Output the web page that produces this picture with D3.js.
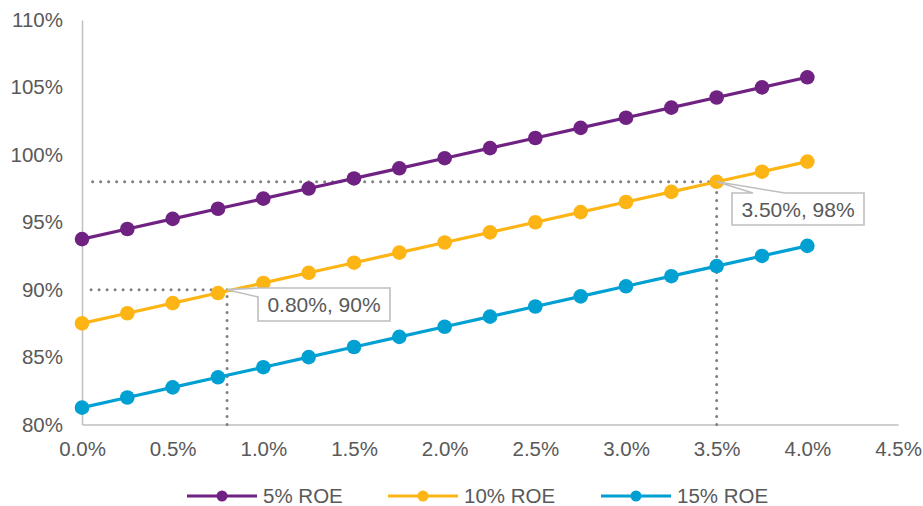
<!DOCTYPE html>
<html>
<head>
<meta charset="utf-8">
<script src="https://cdn.jsdelivr.net/npm/d3@7/dist/d3.min.js"></script>
<style>
  html, body { margin: 0; padding: 0; background: #ffffff; }
  svg { display: block; font-family: "Liberation Sans", Arial, sans-serif; }
</style>
</head>
<body>
<svg id="chart" width="923" height="506"></svg>
<script>
// Growth rate (%) on the x axis
const growth = [0, 0.25, 0.5, 0.75, 1.0, 1.25, 1.5, 1.75, 2.0, 2.25, 2.5, 2.75, 3.0, 3.25, 3.5, 3.75, 4.0];

// Series values (%)
const roe5  = [93.75, 94.5, 95.25, 96, 96.75, 97.5, 98.25, 99, 99.75, 100.5, 101.25, 102, 102.75, 103.5, 104.25, 105, 105.75];
const roe10 = [87.5, 88.25, 89, 89.75, 90.5, 91.25, 92, 92.75, 93.5, 94.25, 95, 95.75, 96.5, 97.25, 98, 98.75, 99.5];
const roe15 = [81.25, 82, 82.75, 83.5, 84.25, 85, 85.75, 86.5, 87.25, 88, 88.75, 89.5, 90.25, 91, 91.75, 92.5, 93.25];

const seriesNames = ["5% ROE", "10% ROE", "15% ROE"];
const seriesColors = ["#702283", "#FDB515", "#00A0D3"];

// Tick values
const xTicks = [0, 0.5, 1.0, 1.5, 2.0, 2.5, 3.0, 3.5, 4.0, 4.5];
const yTicks = [80, 85, 90, 95, 100, 105, 110];

// Highlighted readings
const callouts = [
  { x: 0.8, y: 90, label: "0.80%, 90%" },
  { x: 3.5, y: 98, label: "3.50%, 98%" }
];

const svg = d3.select("#chart");
const margin = { left: 82, right: 25, top: 20, bottom: 81.5 };
const W = 923, H = 506;

const x = d3.scaleLinear().domain([0, 4.5]).range([margin.left, W - margin.right]);
const y = d3.scaleLinear().domain([80, 110]).range([H - margin.bottom, margin.top]);

const textColor = "#595959";
const axisColor = "#BFBFBF";
const dotColor = "#7F7F7F";

// Axes
const xAxis = svg.append("g")
  .attr("transform", `translate(0,${y(80)})`)
  .call(d3.axisBottom(x).tickValues(xTicks).tickSize(0).tickPadding(17)
    .tickFormat(d => d.toFixed(1) + "%"));
const yAxis = svg.append("g")
  .attr("transform", `translate(${x(0)},0)`)
  .call(d3.axisLeft(y).tickValues(yTicks).tickSize(0).tickPadding(19)
    .tickFormat(d => d + "%"));

[xAxis, yAxis].forEach(g => {
  g.select(".domain").attr("stroke", axisColor).attr("stroke-width", 1.5);
  g.selectAll("text").attr("fill", textColor).style("font-size", "20.5px")
    .style("font-family", "'Liberation Sans', Arial, sans-serif");
});

// Dotted guide lines for the highlighted readings
const guides = svg.append("g");
function dotted(x1, y1, x2, y2) {
  guides.append("line")
    .attr("x1", x1).attr("x2", x2).attr("y1", y1).attr("y2", y2)
    .attr("stroke", dotColor).attr("stroke-width", 3)
    .attr("stroke-linecap", "round").attr("stroke-dasharray", "0 8");
}
callouts.forEach(c => {
  dotted(x(c.x), y(c.y), x(0) + 6, y(c.y));
  dotted(x(c.x), y(80), x(c.x), y(c.y));
});

// Series lines and markers
const allSeries = [roe5, roe10, roe15];
const line = d3.line().x((d, i) => x(growth[i])).y(d => y(d));
allSeries.forEach((vals, k) => {
  const g = svg.append("g");
  g.append("path").datum(vals)
    .attr("d", line).attr("fill", "none")
    .attr("stroke", seriesColors[k]).attr("stroke-width", 3.2);
  g.selectAll("circle").data(vals).join("circle")
    .attr("cx", (d, i) => x(growth[i])).attr("cy", d => y(d))
    .attr("r", 7.3).attr("fill", seriesColors[k]);
});

// Callout boxes with wedge pointers
const boxStroke = "#BFBFBF";
const cg = svg.append("g");
function drawCallout(c, bx, by, bw, bh, wedge) {
  const px = x(c.x), py = y(c.y);
  let pts;
  if (wedge.side === "left") {
    pts = [[bx, by], [bx + bw, by], [bx + bw, by + bh], [bx, by + bh],
           [bx, by + wedge.b], [px, py], [bx, by + wedge.a]];
  } else {
    pts = [[bx, by], [bx + wedge.a, by], [px, py], [bx + wedge.b, by],
           [bx + bw, by], [bx + bw, by + bh], [bx, by + bh]];
  }
  cg.append("path")
    .attr("d", "M" + pts.map(p => p.join(",")).join("L") + "Z")
    .attr("fill", "#ffffff").attr("stroke", boxStroke).attr("stroke-width", 1.6)
    .attr("stroke-linejoin", "miter");
  cg.append("text")
    .attr("x", bx + bw / 2).attr("y", by + bh / 2)
    .attr("text-anchor", "middle").attr("dominant-baseline", "central")
    .attr("fill", textColor).style("font-size", "21px")
    .text(c.label);
}
drawCallout(callouts[0], 258, 288, 132, 33, { side: "left", a: 0, b: 9 });
drawCallout(callouts[1], 732, 193, 132, 32, { side: "top", a: 21, b: 53 });

// Legend
const legend = svg.append("g");
const legendX = [187, 388, 601];
seriesNames.forEach((name, k) => {
  const lx = legendX[k], ly = 496;
  legend.append("line")
    .attr("x1", lx).attr("x2", lx + 70).attr("y1", ly).attr("y2", ly)
    .attr("stroke", seriesColors[k]).attr("stroke-width", 3.2);
  legend.append("circle")
    .attr("cx", lx + 35).attr("cy", ly).attr("r", 5.5).attr("fill", seriesColors[k]);
  legend.append("text")
    .attr("x", lx + 76).attr("y", ly + 7.3)
    .attr("fill", textColor).style("font-size", "20.5px")
    .text(name);
});
</script>
</body>
</html>
